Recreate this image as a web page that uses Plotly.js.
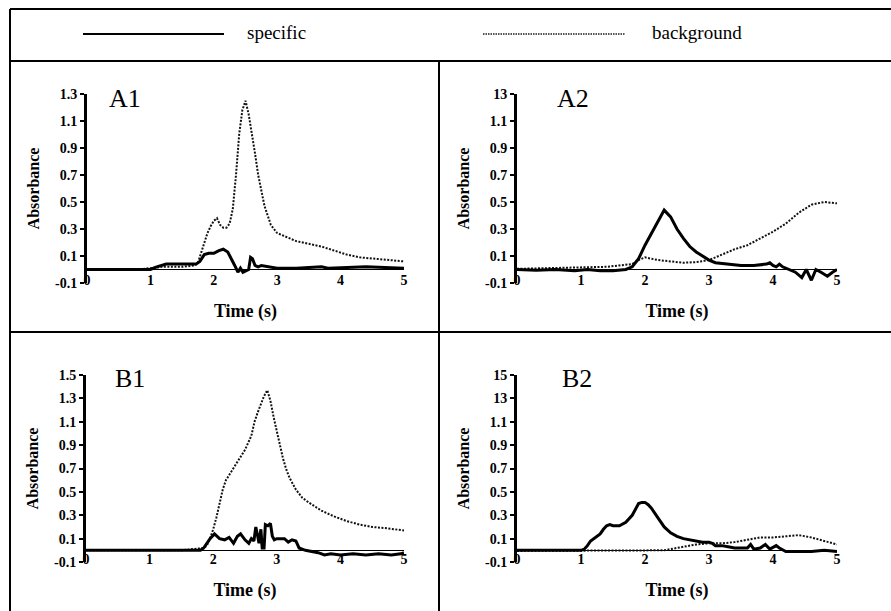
<!DOCTYPE html>
<html>
<head>
<meta charset="utf-8">
<script src="https://cdn.plot.ly/plotly-3.0.1.min.js"></script>
<style>html,body{margin:0;padding:0;background:#fff;}#chart{width:891px;height:611px;}</style>
</head>
<body>
<div id="chart"></div>
<script>
// ---------- data ----------
const seriesNames = ["specific", "background"];
const panelLabels = ["A1", "A2", "B1", "B2"];
const xTickVals = [0, 1, 2, 3, 4, 5];
const xTickText = ["0", "1", "2", "3", "4", "5"];
const aYTickVals = [-0.1, 0.1, 0.3, 0.5, 0.7, 0.9, 1.1, 1.3];
const a1YTickText = ["-0.1", "0.1", "0.3", "0.5", "0.7", "0.9", "1.1", "1.3"];
const a2YTickText = ["-0.1", "0.1", "0.3", "0.5", "0.7", "0.9", "1.1", "13"];
const bYTickVals = [-0.1, 0.1, 0.3, 0.5, 0.7, 0.9, 1.1, 1.3, 1.5];
const b1YTickText = ["-0.1", "0.1", "0.3", "0.5", "0.7", "0.9", "1.1", "1.3", "1.5"];
const b2YTickText = ["-0.1", "0.1", "0.3", "0.5", "0.7", "0.9", "1.1", "13", "15"];

const a1SpecT = [0, 0.5, 1.0, 1.1, 1.2, 1.25, 1.5, 1.72, 1.78, 1.85, 1.92, 2.0, 2.08, 2.15, 2.22, 2.28, 2.33, 2.38, 2.42, 2.46, 2.5, 2.55, 2.58, 2.61, 2.65, 2.7, 2.75, 2.85, 3.0, 3.3, 3.6, 3.7, 3.8, 4.1, 4.4, 4.7, 5.0];
const a1SpecV = [0, 0, 0, 0.02, 0.03, 0.04, 0.04, 0.04, 0.06, 0.11, 0.12, 0.12, 0.14, 0.15, 0.13, 0.08, 0.03, -0.02, 0.01, -0.02, -0.01, 0, 0.09, 0.08, 0.03, 0.02, 0.03, 0.02, 0.01, 0.01, 0.015, 0.02, 0.01, 0.015, 0.02, 0.015, 0.01];
const a1BackT = [0, 0.5, 0.8, 1.0, 1.2, 1.5, 1.7, 1.75, 1.8, 1.85, 1.9, 1.95, 2.0, 2.05, 2.1, 2.15, 2.2, 2.25, 2.3, 2.35, 2.4, 2.45, 2.5, 2.55, 2.6, 2.65, 2.7, 2.75, 2.8, 2.9, 3.0, 3.1, 3.2, 3.3, 3.5, 3.7, 3.9, 4.1, 4.3, 4.5, 4.7, 5.0];
const a1BackV = [0, 0, 0, 0.01, 0.02, 0.02, 0.03, 0.05, 0.12, 0.2, 0.27, 0.32, 0.36, 0.38, 0.33, 0.31, 0.31, 0.34, 0.45, 0.7, 1.0, 1.18, 1.25, 1.15, 1.02, 0.86, 0.7, 0.57, 0.47, 0.33, 0.27, 0.25, 0.23, 0.21, 0.19, 0.17, 0.14, 0.11, 0.09, 0.08, 0.07, 0.06];

const a2SpecT = [0, 0.3, 0.6, 0.9, 1.1, 1.3, 1.5, 1.7, 1.8, 1.9, 2.0, 2.1, 2.2, 2.3, 2.4, 2.5, 2.6, 2.7, 2.8, 2.9, 3.0, 3.1, 3.3, 3.5, 3.7, 3.9, 3.95, 4.0, 4.05, 4.1, 4.15, 4.25, 4.35, 4.45, 4.52, 4.6, 4.67, 4.75, 4.85, 4.93, 5.0];
const a2SpecV = [0, -0.005, 0, -0.01, 0, -0.01, -0.01, 0, 0.02, 0.08, 0.18, 0.27, 0.36, 0.44, 0.39, 0.3, 0.23, 0.17, 0.13, 0.1, 0.07, 0.05, 0.04, 0.03, 0.03, 0.04, 0.05, 0.03, 0.02, 0.04, 0.02, 0, -0.02, -0.06, 0, -0.08, 0, -0.02, -0.05, -0.02, 0];
const a2BackT = [0, 0.5, 1.0, 1.4, 1.6, 1.8, 1.9, 2.0, 2.1, 2.2, 2.4, 2.6, 2.8, 3.0, 3.2, 3.4, 3.6, 3.8, 4.0, 4.2, 4.4, 4.6, 4.8, 5.0];
const a2BackV = [0.005, 0.01, 0.015, 0.02, 0.03, 0.04, 0.07, 0.09, 0.08, 0.07, 0.06, 0.05, 0.055, 0.07, 0.11, 0.15, 0.18, 0.23, 0.28, 0.34, 0.42, 0.48, 0.5, 0.49];

const b1SpecT = [0, 1.0, 1.8, 1.85, 1.9, 1.95, 2.02, 2.1, 2.18, 2.25, 2.32, 2.38, 2.43, 2.5, 2.56, 2.6, 2.64, 2.67, 2.7, 2.72, 2.75, 2.77, 2.8, 2.82, 2.86, 2.9, 2.93, 2.96, 3.0, 3.05, 3.12, 3.18, 3.24, 3.3, 3.35, 3.45, 3.55, 3.65, 3.75, 3.85, 4.0, 4.2, 4.4, 4.6, 4.8, 4.95, 5.0];
const b1SpecV = [0, 0, 0, 0.02, 0.06, 0.1, 0.14, 0.1, 0.09, 0.11, 0.06, 0.12, 0.14, 0.09, 0.06, 0.1, 0.08, 0.2, 0.12, 0.06, 0.18, 0.02, 0.02, 0.22, 0.21, 0.23, 0.12, 0.09, 0.1, 0.1, 0.1, 0.07, 0.09, 0.08, 0.02, 0, -0.01, -0.02, -0.04, -0.03, -0.04, -0.03, -0.04, -0.03, -0.04, -0.03, -0.02];
const b1BackT = [0, 0.5, 1.0, 1.5, 1.85, 1.9, 1.95, 2.0, 2.05, 2.1, 2.15, 2.2, 2.3, 2.4, 2.5, 2.6, 2.65, 2.7, 2.75, 2.8, 2.85, 2.9, 2.95, 3.0, 3.05, 3.1, 3.15, 3.2, 3.3, 3.4, 3.5, 3.7, 3.9, 4.1, 4.3, 4.5, 4.7, 5.0];
const b1BackV = [0, 0, 0, 0, 0.02, 0.04, 0.1, 0.18, 0.28, 0.4, 0.52, 0.6, 0.69, 0.77, 0.86, 0.98, 1.1, 1.18, 1.25, 1.32, 1.37, 1.28, 1.14, 1.02, 0.89, 0.78, 0.69, 0.62, 0.52, 0.45, 0.41, 0.34, 0.29, 0.25, 0.22, 0.2, 0.19, 0.17];

const b2SpecT = [0, 0.5, 1.0, 1.05, 1.1, 1.15, 1.2, 1.25, 1.3, 1.35, 1.4, 1.45, 1.5, 1.6, 1.7, 1.8, 1.85, 1.9, 1.95, 2.0, 2.05, 2.1, 2.2, 2.3, 2.4, 2.5, 2.6, 2.7, 2.8, 2.9, 3.0, 3.05, 3.1, 3.2, 3.3, 3.4, 3.5, 3.6, 3.65, 3.7, 3.8, 3.88, 3.95, 4.05, 4.1, 4.2, 4.4, 4.6, 4.8, 5.0];
const b2SpecV = [0, 0, 0, 0.01, 0.04, 0.08, 0.1, 0.12, 0.14, 0.18, 0.21, 0.22, 0.21, 0.21, 0.24, 0.3, 0.35, 0.4, 0.41, 0.41, 0.39, 0.36, 0.28, 0.2, 0.15, 0.12, 0.1, 0.09, 0.08, 0.07, 0.07, 0.06, 0.04, 0.04, 0.03, 0.02, 0.02, 0.02, 0.05, 0.01, 0.02, 0.05, 0.01, 0.04, 0.02, -0.01, -0.01, -0.01, 0, -0.01];
const b2BackT = [0, 0.5, 1.0, 1.5, 2.0, 2.3, 2.4, 2.5, 2.6, 2.7, 2.8, 3.0, 3.2, 3.4, 3.6, 3.8, 4.0, 4.2, 4.4, 4.6, 4.8, 5.0];
const b2BackV = [-0.005, -0.005, -0.005, -0.005, -0.005, 0, 0.01, 0.02, 0.03, 0.04, 0.05, 0.06, 0.06, 0.07, 0.09, 0.11, 0.11, 0.12, 0.13, 0.11, 0.08, 0.05];

// ---------- build ----------
const W = 891, H = 611;
const px = x => x / W;
const py = y => 1 - y / H;
const serif = "Liberation Serif, Times New Roman, serif";

const panels = [
  {spec: [a1SpecT, a1SpecV], back: [a1BackT, a1BackV], x0: 87, x1: 404, y0: 94, y1: 283, yr: [-0.1, 1.3], tv: aYTickVals, tt: a1YTickText, lx: 125, ly: 98},
  {spec: [a2SpecT, a2SpecV], back: [a2BackT, a2BackV], x0: 517, x1: 837, y0: 94, y1: 283, yr: [-0.1, 1.3], tv: aYTickVals, tt: a2YTickText, lx: 573, ly: 98},
  {spec: [b1SpecT, b1SpecV], back: [b1BackT, b1BackV], x0: 86, x1: 404, y0: 375, y1: 562, yr: [-0.1, 1.5], tv: bYTickVals, tt: b1YTickText, lx: 130, ly: 378},
  {spec: [b2SpecT, b2SpecV], back: [b2BackT, b2BackV], x0: 517, x1: 837, y0: 375, y1: 562, yr: [-0.1, 1.5], tv: bYTickVals, tt: b2YTickText, lx: 577, ly: 378}
];

const traces = [];
const layout = {
  width: W, height: H,
  margin: {l: 0, r: 0, t: 0, b: 0},
  paper_bgcolor: "#fff", plot_bgcolor: "rgba(0,0,0,0)",
  showlegend: false,
  font: {family: serif, color: "#000"},
  shapes: [], annotations: []
};

panels.forEach((p, i) => {
  const n = i === 0 ? "" : String(i + 1);
  const xa = "x" + n, ya = "y" + n;
  traces.push({x: p.back[0], y: p.back[1], xaxis: xa, yaxis: ya, mode: "lines", name: seriesNames[1],
    line: {color: "#111", width: 2, dash: "2px,1.5px"}});
  traces.push({x: p.spec[0], y: p.spec[1], xaxis: xa, yaxis: ya, mode: "lines", name: seriesNames[0],
    line: {color: "#000", width: 3}});
  layout["xaxis" + n] = {
    domain: [px(p.x0), px(p.x1)], anchor: ya, range: [0, 5], fixedrange: true,
    showline: false, showgrid: false, zeroline: false, ticks: "",
    tickvals: xTickVals, ticktext: xTickText, ticklabelstandoff: -13,
    tickfont: {family: serif, size: 14, weight: "bold", color: "#000"},
    title: {text: "Time (s)", standoff: 17, font: {family: serif, size: 18, weight: "bold", color: "#000"}}
  };
  layout["yaxis" + n] = {
    domain: [py(p.y1), py(p.y0)], anchor: xa, range: p.yr, fixedrange: true,
    showline: true, linecolor: "#000", linewidth: 3, showgrid: false,
    zeroline: true, zerolinecolor: "#000", zerolinewidth: 1.5,
    ticks: "outside", ticklen: 4, tickwidth: 2, tickcolor: "#000",
    tickvals: p.tv, ticktext: p.tt,
    tickfont: {family: serif, size: 14, weight: "bold", color: "#000"},
    title: {text: "Absorbance", standoff: 12, font: {family: serif, size: 16, weight: "bold", color: "#000"}}
  };
  layout.annotations.push({xref: "paper", yref: "paper", x: px(p.lx), y: py(p.ly), text: panelLabels[i],
    showarrow: false, xanchor: "center", yanchor: "middle", font: {family: serif, size: 26, color: "#000"}});
});

// frame lines
const frame = [
  [10, 9, 891, 9], [10, 9, 10, 611], [10, 61, 891, 61], [439, 61, 439, 611], [10, 332, 891, 332]
];
frame.forEach(f => layout.shapes.push({type: "line", xref: "paper", yref: "paper",
  x0: px(f[0]), y0: py(f[1]), x1: px(f[2]), y1: py(f[3]), line: {color: "#000", width: 2}}));

// legend (header)
layout.shapes.push({type: "line", xref: "paper", yref: "paper", x0: px(83), x1: px(224), y0: py(34), y1: py(34),
  line: {color: "#000", width: 2}});
layout.shapes.push({type: "line", xref: "paper", yref: "paper", x0: px(483), x1: px(625), y0: py(34), y1: py(34),
  line: {color: "#1a1a1a", width: 1.5, dash: "1.5px,1px"}});
layout.annotations.push({xref: "paper", yref: "paper", x: px(245), y: py(33), text: seriesNames[0], showarrow: false,
  xanchor: "left", yanchor: "middle", font: {family: serif, size: 19, color: "#000"}});
layout.annotations.push({xref: "paper", yref: "paper", x: px(650), y: py(33), text: seriesNames[1], showarrow: false,
  xanchor: "left", yanchor: "middle", font: {family: serif, size: 19, color: "#000"}});

Plotly.newPlot("chart", traces, layout, {staticPlot: true, displayModeBar: false});
</script>
</body>
</html>
